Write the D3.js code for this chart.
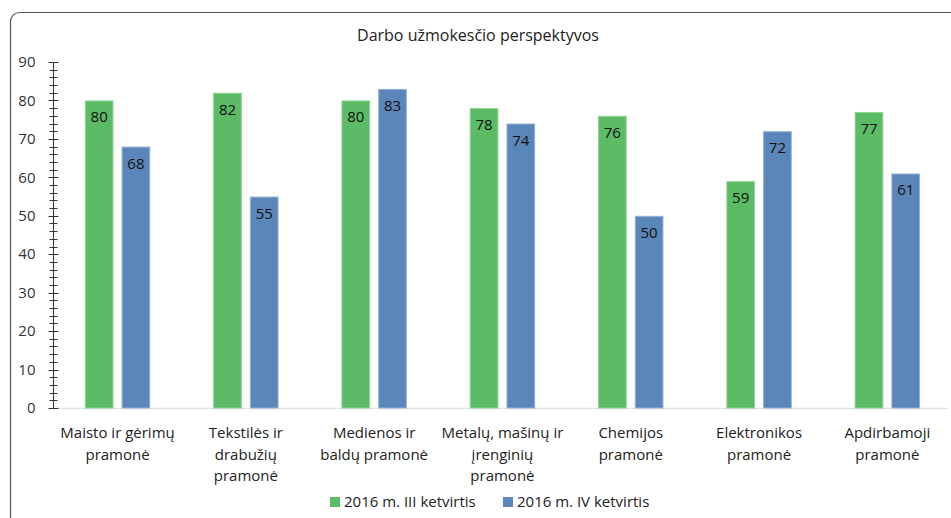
<!DOCTYPE html>
<html>
<head>
<meta charset="utf-8">
<script src="https://cdn.jsdelivr.net/npm/d3@7"></script>
<style>
  body { margin: 0; background: #fff; }
  svg { display: block; font-family: "Open Sans", "Noto Sans", sans-serif; }
</style>
</head>
<body>
<div id="chart"></div>
<script>
var categories = [
    ["Maisto ir gėrimų", "pramonė"],
    ["Tekstilės ir", "drabužių", "pramonė"],
    ["Medienos ir", "baldų pramonė"],
    ["Metalų, mašinų ir", "įrenginių", "pramonė"],
    ["Chemijos", "pramonė"],
    ["Elektronikos", "pramonė"],
    ["Apdirbamoji", "pramonė"]
];
var seriesNames = ["2016 m. III ketvirtis", "2016 m. IV ketvirtis"];
var q3Values = [80, 82, 80, 78, 76, 59, 77];
var q4Values = [68, 55, 83, 74, 50, 72, 61];
var yTicks = [0, 10, 20, 30, 40, 50, 60, 70, 80, 90];

var W = 951, H = 518;
var colors = ["#5cbb65", "#5b86b9"];
var edges = ["#8ed494", "#94b2d6"];

var svg = d3.select("#chart").append("svg")
    .attr("width", W).attr("height", H);

// frame (cropped at right and bottom)
svg.append("rect")
    .attr("x", 10.5).attr("y", 12.5)
    .attr("width", 960).attr("height", 540)
    .attr("rx", 9).attr("ry", 9)
    .style("fill", "none").style("stroke", "#555").style("stroke-width", 1.2);

svg.append("text")
    .attr("x", 478).attr("y", 41)
    .attr("text-anchor", "middle")
    .style("font-size", "16px").style("fill", "#222")
    .text("Darbo užmokesčio perspektyvos");

var y = d3.scaleLinear().domain([0, 90]).range([408, 62]);
var x = d3.scaleBand().domain(d3.range(categories.length))
    .range([53.4, 951.5]).paddingInner(0.49).paddingOuter(0.245);
var xs = d3.scaleBand().domain([0, 1]).range([0, x.bandwidth()]).paddingInner(0.22);

// baseline
svg.append("line")
    .attr("x1", 53).attr("x2", 948)
    .attr("y1", y(0) + 0.5).attr("y2", y(0) + 0.5)
    .style("stroke", "#e3e3e3").style("stroke-width", 1.5);

// y axis with minor ticks
var gy = svg.append("g").attr("transform", "translate(53.5,0)");
gy.append("line").attr("y1", y(90)).attr("y2", y(0))
    .style("stroke", "#333");
gy.selectAll("line.minor").data(d3.range(0, 91, 2)).enter().append("line")
    .attr("class", "minor")
    .attr("x1", -4).attr("x2", 4)
    .attr("y1", function(d){return Math.round(y(d)) + 0.5;})
    .attr("y2", function(d){return Math.round(y(d)) + 0.5;})
    .style("stroke", "#333");
gy.selectAll("line.major").data(yTicks).enter().append("line")
    .attr("class", "major")
    .attr("x1", -5).attr("x2", 5)
    .attr("y1", function(d){return Math.round(y(d)) + 0.5;})
    .attr("y2", function(d){return Math.round(y(d)) + 0.5;})
    .style("stroke", "#333");
gy.selectAll("text").data(yTicks).enter().append("text")
    .attr("x", -18).attr("y", function(d){return y(d);})
    .attr("dy", "0.35em")
    .attr("text-anchor", "end")
    .style("font-size", "15px").style("fill", "#333")
    .text(function(d){return d;});

// bars
var series = [q3Values, q4Values];
series.forEach(function(vals, s){
    var g = svg.append("g");
    g.selectAll("rect").data(vals).enter().append("rect")
        .attr("x", function(d,i){return x(i) + xs(s) + 0.5;})
        .attr("y", function(d){return y(d) + 0.5;})
        .attr("width", xs.bandwidth() - 1)
        .attr("height", function(d){return y(0) - y(d) - 0.5;})
        .style("fill", colors[s])
        .style("stroke", edges[s]).style("stroke-width", 1);
    g.selectAll("text").data(vals).enter().append("text")
        .attr("x", function(d,i){return x(i) + xs(s) + xs.bandwidth()/2;})
        .attr("y", function(d){return y(d) + 22;})
        .attr("text-anchor", "middle")
        .style("font-size", "15px").style("fill", "#111")
        .text(function(d){return d;});
});

// category labels
var gx = svg.append("g");
categories.forEach(function(lines, i){
    var t = gx.append("text")
        .attr("x", x(i) + x.bandwidth()/2)
        .attr("y", 438)
        .attr("text-anchor", "middle")
        .style("font-size", "15px").style("fill", "#222");
    lines.forEach(function(l, k){
        t.append("tspan")
            .attr("x", x(i) + x.bandwidth()/2)
            .attr("dy", k === 0 ? 0 : 21.5)
            .text(l);
    });
});

// legend
var legendX = [330, 503];
seriesNames.forEach(function(n, s){
    var g = svg.append("g").attr("transform", "translate(" + legendX[s] + ",497)");
    g.append("rect").attr("width", 10).attr("height", 10).style("fill", colors[s]);
    g.append("text").attr("x", 14).attr("y", 10)
        .style("font-size", "15px").style("fill", "#222")
        .text(n);
});
</script>
</body>
</html>
